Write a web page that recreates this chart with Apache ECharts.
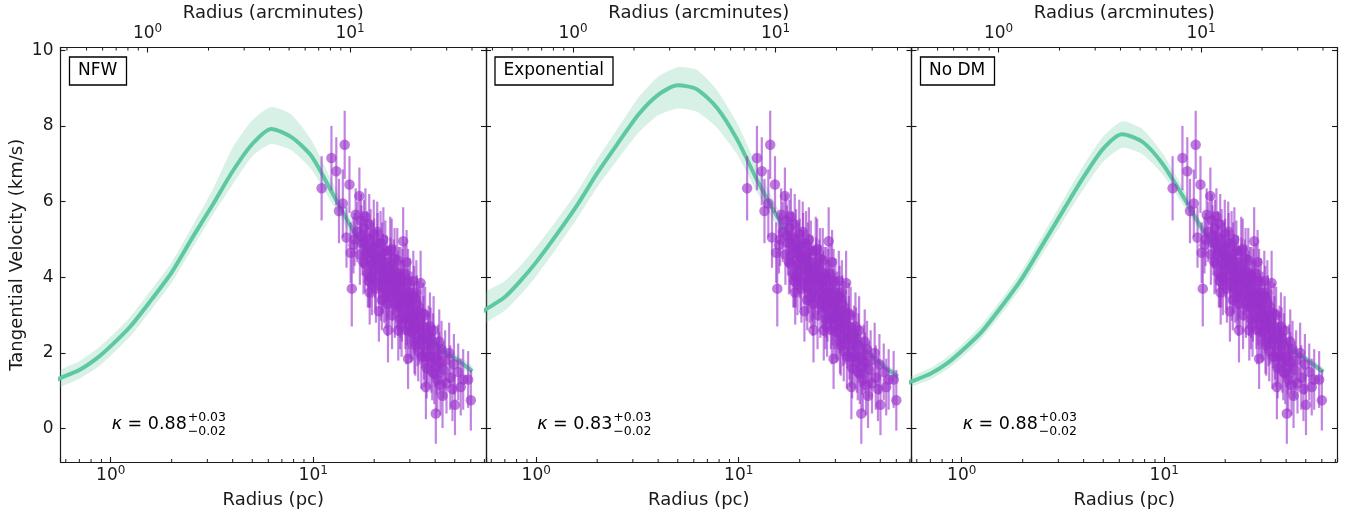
<!DOCTYPE html>
<html>
<head>
<meta charset="utf-8">
<script src="https://cdn.jsdelivr.net/npm/echarts@6/dist/echarts.min.js"></script>
<style>
  html, body { margin: 0; padding: 0; background: #fff; }
  #chart { width: 1354px; height: 517px; }
</style>
</head>
<body>
<div id="chart"></div>
<script>
// model curves, sampled at these radii (pc)
var modelRadius = [0.5, 0.56, 0.7, 0.85, 1.0, 1.25, 1.6, 2.0, 2.5, 3.2, 4.0, 5.0, 6.2, 7.8, 9.8, 12.5, 15.5, 20, 25, 30, 36, 43, 52, 61];

var nfwVel  = [1.19, 1.33, 1.55, 1.85, 2.18, 2.70, 3.43, 4.13, 5.00, 5.93, 6.80, 7.52, 7.92, 7.70, 7.20, 6.20, 5.30, 4.40, 3.70, 3.10, 2.55, 2.10, 1.80, 1.52];
var nfwLow  = [0.97, 1.10, 1.32, 1.60, 1.93, 2.44, 3.17, 3.86, 4.72, 5.66, 6.45, 7.20, 7.52, 7.35, 6.85, 5.92, 5.08, 4.22, 3.54, 2.96, 2.42, 1.98, 1.68, 1.40];
var nfwHigh = [1.40, 1.55, 1.78, 2.10, 2.43, 2.96, 3.70, 4.40, 5.30, 6.33, 7.42, 8.15, 8.50, 8.30, 7.62, 6.50, 5.52, 4.60, 3.88, 3.26, 2.70, 2.24, 1.93, 1.65];

var expVel  = [2.95, 3.14, 3.48, 3.95, 4.40, 5.10, 5.92, 6.75, 7.50, 8.30, 8.82, 9.07, 8.97, 8.48, 7.65, 6.50, 5.60, 4.60, 3.85, 3.20, 2.60, 2.05, 1.65, 1.38];
var expLow  = [2.55, 2.78, 3.12, 3.58, 4.03, 4.74, 5.57, 6.38, 7.08, 7.82, 8.28, 8.46, 8.38, 7.95, 7.25, 6.18, 5.35, 4.42, 3.70, 3.08, 2.50, 1.97, 1.56, 1.28];
var expHigh = [3.45, 3.62, 3.90, 4.35, 4.80, 5.48, 6.28, 7.12, 7.90, 8.75, 9.30, 9.55, 9.48, 8.95, 8.08, 6.85, 5.85, 4.78, 4.00, 3.32, 2.70, 2.15, 1.75, 1.48];

var nodmVel  = [1.12, 1.24, 1.45, 1.73, 2.05, 2.55, 3.28, 4.00, 4.85, 5.80, 6.65, 7.40, 7.78, 7.58, 7.00, 6.10, 5.25, 4.40, 3.70, 3.10, 2.58, 2.10, 1.78, 1.50];
var nodmLow  = [0.98, 1.10, 1.30, 1.57, 1.88, 2.37, 3.08, 3.78, 4.60, 5.52, 6.33, 7.05, 7.42, 7.25, 6.72, 5.88, 5.07, 4.25, 3.57, 2.98, 2.47, 2.00, 1.68, 1.41];
var nodmHigh = [1.26, 1.38, 1.60, 1.90, 2.22, 2.74, 3.48, 4.22, 5.10, 6.08, 6.96, 7.72, 8.12, 7.92, 7.28, 6.32, 5.42, 4.55, 3.83, 3.22, 2.69, 2.20, 1.88, 1.60];

// observed stars (same in every panel)
var obsRadius = [11.0, 12.3, 13.0, 14.3, 13.4, 14.0, 15.1, 16.2, 16.9, 14.6, 15.3, 15.8, 15.5, 16.5, 17.2, 17.5, 17.8, 18.2, 18.6, 18.4,
  18.9, 19.0, 19.3, 19.6, 19.9, 20.2, 20.5, 20.8, 21.1, 21.3, 21.6, 21.9, 22.2, 22.5, 22.8, 23.1, 23.4, 23.7, 24.0, 24.4,
  24.7, 25.0, 25.3, 25.6, 26.0, 26.3, 26.6, 27.0, 27.4, 27.8, 28.1, 28.5, 28.9, 29.4, 29.7, 30.0, 30.4, 30.8, 31.2, 31.6,
  32.0, 32.5, 33.0, 33.4, 33.9, 34.4, 34.9, 35.4, 36.0, 36.5, 37.1, 37.7, 38.3, 39.0, 39.6, 40.3, 40.7, 41.4, 41.9, 42.5,
  43.5, 44.1, 45.5, 46.9, 48.7, 50.1, 52.0, 55.0, 58.2, 60.0, 17.0, 18.0, 19.1, 20.0, 21.0, 22.0, 23.0, 24.2, 25.2, 26.2,
  27.2, 28.3, 29.0, 30.2, 31.5, 32.8, 35.0, 36.8, 16.0, 19.5, 22.6, 26.8, 29.4,
  17.3, 17.7, 18.1, 18.5, 18.8, 19.2, 19.7, 20.1, 20.4, 20.7, 21.2, 21.5, 21.8, 22.1, 22.4, 22.7, 23.2, 23.5, 23.8, 24.1,
  24.5, 24.9, 25.4, 25.8, 26.1, 26.5, 26.9, 27.3, 27.6, 28.0, 28.4, 28.8, 29.2, 29.6, 30.1, 30.6, 31.0, 31.4, 31.9, 32.3,
  32.7, 33.2, 33.7, 34.2, 34.7, 35.2, 35.7, 36.3, 37.4, 38.0, 38.7, 39.3, 40.0, 41.0, 42.0, 43.0, 44.8, 47.5, 49.5, 53.5];
var obsVel = [6.35, 7.15, 6.80, 7.50, 5.75, 5.95, 6.45, 5.65, 6.15, 5.05, 4.65, 4.85, 3.70, 5.20, 5.50, 4.90, 5.30, 4.60, 4.10, 5.05,
  5.40, 3.60, 4.75, 4.35, 5.15, 3.95, 4.55, 4.90, 3.10, 4.20, 3.75, 4.65, 5.00, 4.00, 3.45, 4.40, 2.60, 3.90, 4.70, 4.75,
  3.60, 4.20, 3.30, 3.85, 4.45, 2.60, 3.50, 4.00, 3.15, 4.95, 3.70, 2.90, 4.40, 1.85, 3.35, 3.60, 2.55, 3.00, 3.90, 2.30,
  2.80, 3.30, 2.05, 2.60, 3.85, 2.35, 3.05, 1.90, 1.10, 2.00, 2.50, 2.70, 1.75, 2.20, 1.45, 0.40, 1.65, 1.95, 2.30, 1.15,
  0.87, 1.55, 1.20, 2.00, 1.05, 0.63, 1.50, 1.30, 1.30, 0.75, 4.60, 4.35, 4.00, 4.80, 4.45, 3.90, 3.60, 3.95, 4.50, 3.20,
  3.60, 3.30, 2.95, 3.20, 3.50, 2.90, 2.70, 2.25, 5.00, 3.80, 4.20, 2.90, 3.90,
  5.10, 4.40, 5.60, 4.80, 3.90, 5.00, 4.60, 4.20, 3.70, 5.20, 4.00, 4.90, 3.40, 4.40, 3.70, 4.70, 3.30, 4.10, 3.50, 4.30,
  3.00, 3.80, 4.00, 3.40, 3.90, 4.10, 3.30, 2.70, 3.90, 3.40, 4.10, 2.60, 3.50, 2.90, 2.70, 3.40, 2.60, 3.00, 2.20, 3.60,
  2.40, 3.10, 2.80, 1.90, 2.50, 2.20, 3.00, 1.60, 1.90, 2.40, 1.50, 2.60, 1.90, 1.30, 1.75, 2.10, 1.80, 1.35, 1.70, 1.10];
var obsErr = [0.85, 0.85, 0.90, 0.90, 0.85, 0.90, 0.75, 0.70, 0.75, 0.80, 0.80, 0.75, 1.00, 0.80, 0.70, 0.85, 0.75, 0.80, 0.90, 0.70,
  0.80, 0.85, 0.75, 0.80, 0.90, 0.80, 0.70, 0.80, 0.80, 0.75, 0.90, 0.80, 0.85, 0.75, 0.80, 0.70, 0.85, 0.80, 0.90, 0.80,
  0.75, 0.80, 0.90, 0.75, 0.85, 0.80, 0.70, 0.80, 0.85, 0.90, 0.75, 0.80, 0.85, 0.80, 0.75, 0.90, 0.80, 0.70, 0.80, 0.85,
  0.80, 0.75, 0.80, 0.90, 0.85, 0.75, 0.80, 0.80, 0.85, 0.80, 0.75, 0.90, 0.80, 0.85, 0.80, 0.80, 0.75, 0.80, 0.85, 0.80,
  0.85, 0.75, 0.80, 0.80, 0.85, 0.80, 0.75, 0.80, 0.75, 0.80, 0.80, 0.75, 0.80, 0.75, 0.80, 0.85, 0.75, 0.80, 0.80, 0.75,
  0.85, 0.80, 0.75, 0.80, 0.80, 0.75, 0.80, 0.80, 0.70, 0.80, 0.70, 0.80, 0.85,
  0.80, 0.85, 0.75, 0.90, 0.70, 0.80, 0.85, 0.75, 0.90, 0.80, 0.70, 0.85, 0.80, 0.75, 0.90, 0.80, 0.85, 0.70, 0.80, 0.75,
  0.90, 0.80, 0.85, 0.75, 0.80, 0.70, 0.90, 0.80, 0.85, 0.75, 0.80, 0.90, 0.70, 0.80, 0.85, 0.75, 0.80, 0.90, 0.80, 0.85,
  0.75, 0.80, 0.70, 0.85, 0.80, 0.90, 0.75, 0.80, 0.85, 0.80, 0.75, 0.90, 0.80, 0.85, 0.80, 0.75, 0.80, 0.85, 0.80, 0.75];

var panelNames = ['NFW', 'Exponential', 'No DM'];
var kappaValue = ['0.88', '0.83', '0.88'];
var kappaUp = ['+0.03', '+0.03', '+0.03'];
var kappaDown = ['\u22120.02', '\u22120.02', '\u22120.02'];

var bottomMinor = [0.6, 0.7, 0.8, 0.9, 2, 3, 4, 5, 6, 7, 8, 9, 20, 30, 40, 50, 60, 70];
var topMinor = [0.4, 0.5, 0.6, 0.7, 0.8, 0.9, 2, 3, 4, 5, 6, 7, 8, 9, 20, 30, 40];

var xMin = 0.565, xMax = 71.3;
var pcPerArcmin = 1.52;
var yMin = -0.88, yMax = 10.07;

var font = 'DejaVu Sans';
var ink = '#1a1a1a';
var green = '#5ec9a0';
var bandFill = 'rgba(94,201,160,0.25)';
var purple = 'rgba(153,50,204,0.8)';
var purpleBar = 'rgba(153,50,204,0.6)';

var panelLeft = [60.5, 486, 911.5];
var panelWidth = 425.5;
var panelTop = 47.5;
var panelHeight = 414.5;

var curves = [
  [nfwVel, nfwLow, nfwHigh],
  [expVel, expLow, expHigh],
  [nodmVel, nodmLow, nodmHigh]
];

var chart = echarts.init(document.getElementById('chart'), null, { renderer: 'canvas' });

function powLabel(v) {
  var e = Math.log10(v);
  if (Math.abs(e - Math.round(e)) > 1e-6) return '';
  return '{b|10}{s|' + Math.round(e) + '}';
}
var powRich = {
  b: { fontSize: 17, fontFamily: font, color: ink, lineHeight: 22 },
  s: { fontSize: 12, fontFamily: font, color: ink, verticalAlign: 'top', lineHeight: 13 }
};
var nameStyle = { fontSize: 18, fontFamily: font, color: ink };
var lineStyle = { color: ink, width: 1.2 };

function tickRenderer(atTop) {
  return function (params, api) {
    var cs = params.coordSys;
    var x = api.coord([api.value(0), 1])[0];
    var y0 = atTop ? cs.y : cs.y + cs.height;
    var y1 = atTop ? y0 + 3 : y0 - 3;
    return { type: 'line', shape: { x1: x, y1: y0, x2: x, y2: y1 }, style: { stroke: ink, lineWidth: 1 } };
  };
}

var grids = [], xAxes = [], yAxes = [], series = [], titles = [], lineSeriesIdx = [];

for (var i = 0; i < 3; i++) {
  grids.push({ left: panelLeft[i], top: panelTop, width: panelWidth, height: panelHeight, containLabel: false, outerBoundsMode: 'none' });

  xAxes.push({
    type: 'log', logBase: 10, gridIndex: i, position: 'bottom', min: xMin, max: xMax,
    name: 'Radius (pc)', nameLocation: 'middle', nameGap: 29, nameTextStyle: nameStyle,
    axisLine: { show: true, onZero: false, lineStyle: lineStyle },
    axisTick: { show: true, inside: true, length: 5, lineStyle: { color: ink, width: 1.1 } },
    axisLabel: { margin: 3, formatter: powLabel, rich: powRich },
    splitLine: { show: false }
  });
  xAxes.push({
    type: 'log', logBase: 10, gridIndex: i, position: 'top', min: xMin / pcPerArcmin, max: xMax / pcPerArcmin,
    name: 'Radius (arcminutes)', nameLocation: 'middle', nameGap: 25, nameMoveOverlap: false, nameTextStyle: nameStyle,
    axisLine: { show: true, onZero: false, lineStyle: lineStyle },
    axisTick: { show: true, inside: true, length: 5, lineStyle: { color: ink, width: 1.1 } },
    axisLabel: { margin: 3, formatter: powLabel, rich: powRich },
    splitLine: { show: false }
  });

  yAxes.push({
    type: 'value', gridIndex: i, position: 'left', min: yMin, max: yMax, splitNumber: 5,
    name: i === 0 ? 'Tangential Velocity (km/s)' : '', nameLocation: 'middle', nameGap: 34, nameTextStyle: nameStyle,
    axisLine: { show: true, onZero: false, lineStyle: lineStyle },
    axisTick: { show: true, inside: true, length: 5, lineStyle: { color: ink, width: 1.1 } },
    axisLabel: {
      show: i === 0, margin: 7, fontSize: 17, fontFamily: font, color: ink,
      formatter: function (v) { return Math.abs(v - Math.round(v)) < 1e-6 ? String(Math.round(v)) : ''; }
    },
    splitLine: { show: false }
  });
  yAxes.push({
    type: 'value', gridIndex: i, position: 'right', min: yMin, max: yMax, splitNumber: 5,
    axisLine: { show: true, onZero: false, lineStyle: lineStyle },
    axisTick: { show: true, inside: true, length: 5, lineStyle: { color: ink, width: 1.1 } },
    axisLabel: { show: false },
    splitLine: { show: false }
  });

  var xi = 2 * i, yi = 2 * i;
  var c = curves[i];

  // uncertainty band
  series.push({
    type: 'custom', xAxisIndex: xi, yAxisIndex: yi, clip: true, silent: true, z: 1,
    data: modelRadius.map(function (r, j) { return [r, c[1][j], c[2][j]]; }),
    renderItem: function (params, api) {
      if (params.dataIndexInside !== 0) return null;
      var n = params.dataInsideLength, up = [], lo = [];
      for (var j = 0; j < n; j++) {
        up.push(api.coord([api.value(0, j), api.value(2, j)]));
        lo.push(api.coord([api.value(0, j), api.value(1, j)]));
      }
      return { type: 'polygon', shape: { points: up.concat(lo.reverse()), smooth: 0.2 }, style: { fill: bandFill } };
    }
  });
  // model line
  lineSeriesIdx.push(series.length);
  series.push({
    type: 'line', xAxisIndex: xi, yAxisIndex: yi, clip: true, silent: true, z: 2,
    symbol: 'none', smooth: 0.25,
    lineStyle: { color: green, width: 4 },
    data: modelRadius.map(function (r, j) { return [r, c[0][j]]; })
  });
  // error bars
  series.push({
    type: 'custom', xAxisIndex: xi, yAxisIndex: yi, silent: true, z: 3,
    data: obsRadius.map(function (r, j) { return [r, obsVel[j], obsErr[j]]; }),
    renderItem: function (params, api) {
      var r = api.value(0), v = api.value(1), e = api.value(2);
      var p1 = api.coord([r, v - e]), p2 = api.coord([r, v + e]);
      return { type: 'line', shape: { x1: p1[0], y1: p1[1], x2: p2[0], y2: p2[1] }, style: { stroke: purpleBar, lineWidth: 2.2 } };
    }
  });
  // data points
  series.push({
    type: 'scatter', xAxisIndex: xi, yAxisIndex: yi, silent: true, z: 4,
    symbolSize: 10.5, itemStyle: { color: purple },
    data: obsRadius.map(function (r, j) { return [r, obsVel[j]]; })
  });
  // minor ticks on the log axes
  series.push({
    type: 'custom', xAxisIndex: xi, yAxisIndex: yi, silent: true, z: 5,
    data: bottomMinor.map(function (v) { return [v, 1]; }),
    renderItem: tickRenderer(false)
  });
  series.push({
    type: 'custom', xAxisIndex: xi + 1, yAxisIndex: yi, silent: true, z: 5,
    data: topMinor.map(function (v) { return [v, 1]; }),
    renderItem: tickRenderer(true)
  });

  titles.push({
    text: panelNames[i], left: panelLeft[i] + 8.5, top: 56.5, padding: [6, 9],
    borderColor: '#000', borderWidth: 1.3, backgroundColor: '#fff',
    textStyle: { fontSize: 17, fontWeight: 'normal', fontFamily: font, color: '#000' }
  });
}

chart.setOption({
  animation: false,
  backgroundColor: '#fff',
  textStyle: { fontFamily: font },
  title: titles,
  grid: grids,
  xAxis: xAxes,
  yAxis: yAxes,
  series: series
});

// kappa annotations, anchored at r = 1 pc
var labels = [];
for (var k = 0; k < 3; k++) {
  var p = chart.convertToPixel({ seriesIndex: lineSeriesIdx[k] }, [1, 0.12]);
  labels.push({
    type: 'group', x: p[0], y: p[1], silent: true,
    children: [
      { type: 'text', x: 1, y: 0, style: { text: '{k|\u03ba} = ' + kappaValue[k], rich: { k: { fontStyle: 'italic', fontSize: 17.5, fontFamily: font } }, fontSize: 17.5, fontFamily: font, fill: '#000', verticalAlign: 'middle', align: 'left' } },
      { type: 'text', x: 77, y: -6, style: { text: kappaUp[k], fontSize: 12.5, fontFamily: font, fill: '#000', verticalAlign: 'middle', align: 'left' } },
      { type: 'text', x: 77, y: 7.5, style: { text: kappaDown[k], fontSize: 12.5, fontFamily: font, fill: '#000', verticalAlign: 'middle', align: 'left' } }
    ]
  });
}
chart.setOption({ graphic: labels });
</script>
</body>
</html>
